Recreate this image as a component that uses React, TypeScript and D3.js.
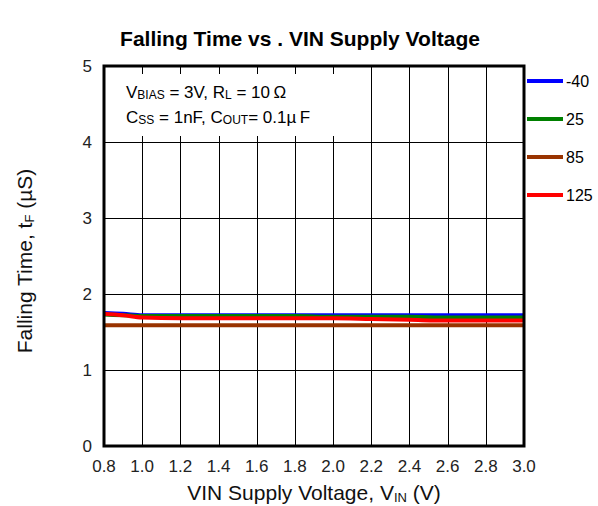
import React, { useEffect, useRef } from 'react';
import * as d3 from 'd3';

const vinValues = [0.8, 0.9, 1.0, 1.2, 1.4, 1.6, 1.8, 2.0, 2.2, 2.4, 2.6, 2.8, 3.0];
const tempLabels = ['-40', '25', '85', '125'];
const tempColors = ['#0000ff', '#008000', '#993300', '#ff0000'];
const fall_m40 = [1.75, 1.74, 1.72, 1.72, 1.72, 1.72, 1.72, 1.72, 1.72, 1.72, 1.72, 1.72, 1.72];
const fall_25 = [1.73, 1.72, 1.71, 1.71, 1.71, 1.71, 1.71, 1.7, 1.7, 1.7, 1.69, 1.69, 1.69];
const fall_85 = [1.59, 1.59, 1.59, 1.59, 1.59, 1.59, 1.59, 1.59, 1.59, 1.59, 1.59, 1.59, 1.59];
const fall_125 = [1.74, 1.72, 1.69, 1.68, 1.68, 1.68, 1.68, 1.68, 1.67, 1.66, 1.65, 1.65, 1.65];
const xTicks = [0.8, 1.0, 1.2, 1.4, 1.6, 1.8, 2.0, 2.2, 2.4, 2.6, 2.8, 3.0];
const yTicks = [0, 1, 2, 3, 4, 5];

const FONT = "'Liberation Sans', Arial, sans-serif";

const App: React.FC = () => {
  const svgRef = useRef<SVGSVGElement>(null);

  useEffect(() => {
    if (!svgRef.current) return;
    const svg = d3.select(svgRef.current);
    svg.selectAll('*').remove();

    const left = 104, right = 524, top = 66, bottom = 446;
    const x = d3.scaleLinear().domain([0.8, 3.0]).range([left, right]);
    const y = d3.scaleLinear().domain([0, 5]).range([bottom, top]);

    svg.append('rect').attr('width', 598).attr('height', 506).attr('fill', '#fff');

    // grid
    const grid = svg.append('g').attr('stroke', '#000').attr('stroke-width', 1);
    xTicks.slice(1, -1).forEach(v => {
      grid.append('line')
        .attr('x1', Math.round(x(v)) + 0.5).attr('x2', Math.round(x(v)) + 0.5)
        .attr('y1', top).attr('y2', bottom);
    });
    yTicks.slice(1, -1).forEach(v => {
      grid.append('line')
        .attr('x1', left).attr('x2', right)
        .attr('y1', Math.round(y(v)) + 0.5).attr('y2', Math.round(y(v)) + 0.5);
    });

    // annotation box
    svg.append('rect').attr('x', left + 2).attr('y', 74).attr('width', 254).attr('height', 62).attr('fill', '#fff');
    const ann = svg.append('g').attr('font-family', FONT).attr('font-size', 17).attr('fill', '#000');
    const l1 = ann.append('text').attr('x', 126).attr('y', 98);
    l1.append('tspan').text('V');
    l1.append('tspan').attr('font-size', 12).attr('dy', 1).text('BIAS');
    l1.append('tspan').attr('dy', -1).text(' = 3V,  R');
    l1.append('tspan').attr('font-size', 12).attr('dy', 1).text('L');
    l1.append('tspan').attr('dy', -1).text(' = 10\u2009Ω');
    const l2 = ann.append('text').attr('x', 126).attr('y', 123);
    l2.append('tspan').text('C');
    l2.append('tspan').attr('font-size', 12).attr('dy', 1).text('SS');
    l2.append('tspan').attr('dy', -1).text(' = 1nF, C');
    l2.append('tspan').attr('font-size', 12).attr('dy', 1).text('OUT');
    l2.append('tspan').attr('dy', -1).text('= 0.1µ\u2009F');

    // series
    const series = [fall_m40, fall_25, fall_85, fall_125];
    const line = d3.line<number>().x((_, i) => x(vinValues[i])).y(d => y(d)).curve(d3.curveMonotoneX);
    [2, 0, 1, 3].forEach(k => {
      svg.append('path')
        .attr('d', line(series[k]))
        .attr('fill', 'none')
        .attr('stroke', tempColors[k])
        .attr('stroke-width', 4);
    });

    // frame
    svg.append('rect')
      .attr('x', left).attr('y', top).attr('width', right - left).attr('height', bottom - top)
      .attr('fill', 'none').attr('stroke', '#000').attr('stroke-width', 3);

    // tick labels
    const tl = svg.append('g').attr('font-family', FONT).attr('font-size', 17).attr('fill', '#222');
    xTicks.forEach(v => {
      tl.append('text').attr('x', x(v)).attr('y', 472).attr('text-anchor', 'middle').text(v.toFixed(1));
    });
    yTicks.forEach(v => {
      tl.append('text').attr('x', 92).attr('y', y(v) + 6).attr('text-anchor', 'end').text(String(v));
    });

    // legend
    const lg = svg.append('g').attr('font-family', FONT).attr('font-size', 16).attr('fill', '#000');
    tempLabels.forEach((t, i) => {
      const ly = 81 + i * 38;
      lg.append('line').attr('x1', 527).attr('x2', 563).attr('y1', ly).attr('y2', ly)
        .attr('stroke', tempColors[i]).attr('stroke-width', 4);
      lg.append('text').attr('x', 566).attr('y', ly + 6).text(t);
    });

    // title
    svg.append('text').attr('x', 300).attr('y', 46).attr('text-anchor', 'middle')
      .attr('font-family', FONT).attr('font-size', 21).attr('font-weight', 'bold')
      .text('Falling Time vs . VIN Supply Voltage');

    // x label
    const xl = svg.append('text').attr('x', 314).attr('y', 500).attr('text-anchor', 'middle')
      .attr('font-family', FONT).attr('font-size', 21).attr('fill', '#111');
    xl.append('tspan').text('VIN Supply Voltage, V');
    xl.append('tspan').attr('font-size', 13).attr('dy', 2).text('IN');
    xl.append('tspan').attr('dy', -2).text(' (V)');

    // y label
    const yl = svg.append('text').attr('transform', 'translate(32,261) rotate(-90)')
      .attr('text-anchor', 'middle').attr('font-family', FONT).attr('font-size', 21).attr('fill', '#111');
    yl.append('tspan').text('Falling Time, t');
    yl.append('tspan').attr('font-size', 13).attr('dy', 2).text('F');
    yl.append('tspan').attr('dy', -2).text(' (µS)');
  }, []);

  return <svg ref={svgRef} width={598} height={506} style={{ position: 'absolute', left: 0, top: 0 }} />;
};

export default App;
